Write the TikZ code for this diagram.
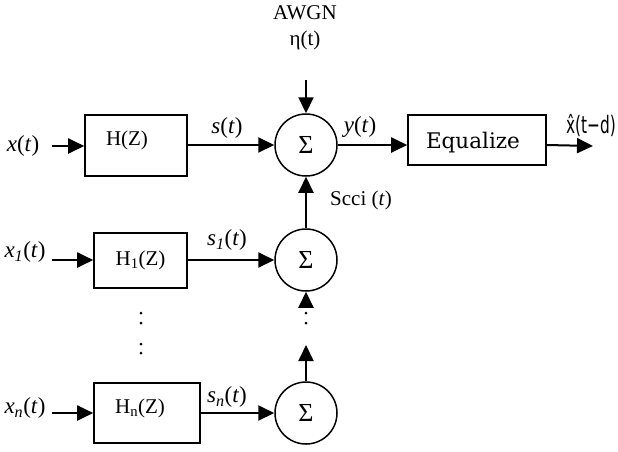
\documentclass[tikz,border=0pt]{standalone}
\usepackage{fontspec}
\setmainfont{Liberation Serif}
\newfontfamily\eqfont{DejaVu Serif}
\newfontfamily\hatfont{DejaVu Sans}
\usetikzlibrary{arrows.meta}
\begin{document}
\begin{tikzpicture}[x=1pt,y=-1pt,
  txt/.style={inner sep=0pt,font=\fontsize{21}{25}\selectfont},
  lbl/.style={inner sep=0pt,font=\fontsize{23}{27}\selectfont},
  blk/.style={draw,line width=1.6pt,inner sep=0pt,font=\fontsize{21}{25}\selectfont},
  sumnode/.style={draw,circle,line width=1.5pt,minimum size=62pt,inner sep=0pt,font=\fontsize{26}{30}\selectfont},
  arr/.style={line width=2pt,-{Triangle[length=16pt,width=15pt]}},
  dotmark/.style={fill,circle,inner sep=0pt,minimum size=3pt}
]
\useasboundingbox (0,0) rectangle (618,451);

% top row
\node[blk,minimum width=102pt,minimum height=61pt] (hz) at (136,145.5) {};
\node[txt] (hzt) at (127,140) {H(Z)};
\node[sumnode] (c1) at (306,145) {Σ};
\node[blk,minimum width=138pt,minimum height=50pt] (eq) at (477,140) {};
\node[inner sep=0pt,font=\eqfont\fontsize{21.5}{25}\selectfont] (eqt) at (473,143) {Equalize};

\node[txt] (awgn) at (305,13) {AWGN};
\node[txt] (eta) at (305,40) {η(t)};
\coordinate (nin) at (306,80);

\node[lbl] (xl) at (23,146) {\textit{x}(\textit{t})};
\coordinate (xin) at (52,146);
\node[lbl] (sl) at (227,128) {\textit{s}(\textit{t})};
\node[lbl] (yl) at (360,127) {\textit{y}(\textit{t})};
\node[inner sep=0pt,anchor=east,font=\hatfont\fontsize{24}{28}\selectfont] (xh) at (616,125) {\scalebox{0.64}[1]{x̂(t−d)}};
\coordinate (out) at (593,146);
\node[txt] (scci) at (361,200) {Scci (\textit{t})};

% second row
\node[blk,minimum width=93pt,minimum height=55pt] (h1) at (140.5,260.5) {H\textsubscript{1}(Z)};
\node[sumnode] (c2) at (306,260) {Σ};
\node[lbl] (x1l) at (25,252) {\textit{x}\textsubscript{\textit{1}}(\textit{t})};
\coordinate (x1in) at (52,260);
\node[lbl] (s1l) at (227,240) {\textit{s}\textsubscript{\textit{1}}(\textit{t})};

% third row
\node[blk,minimum width=106pt,minimum height=60pt] (hn) at (147,413) {};
\node[txt] (hnt) at (140,408) {H\textsubscript{n}(Z)};
\node[sumnode] (c3) at (306,413) {Σ};
\node[lbl] (xnl) at (25,408) {\textit{x}\textsubscript{\textit{n}}(\textit{t})};
\coordinate (xnin) at (52,413);
\node[lbl] (snl) at (227,397) {\textit{s}\textsubscript{\textit{n}}(\textit{t})};

% dots
\node[dotmark] (d1) at (141,313) {};
\node[dotmark] (d2) at (141,323) {};
\node[dotmark] (d3) at (141,344) {};
\node[dotmark] (d4) at (141,353) {};
\node[dotmark] (d5) at (306,313) {};
\node[dotmark] (d6) at (306,323) {};
\coordinate (c2in) at (306,307);
\coordinate (c3out) at (306,345);

% connectors
\draw[arr] (xin) -- (hz.west |- xin);
\draw[arr] (hz.east |- c1.west) -- (c1.west);
\draw[arr] (nin) -- (c1.north);
\draw[arr] (c1.east) -- (eq.west |- c1.east);
\draw[arr] (eq.east |- c1.east) -- (out);
\draw[arr] (c2.north) -- (c1.south);

\draw[arr] (x1in) -- (h1.west |- x1in);
\draw[arr] (h1.east |- c2.west) -- (c2.west);
\draw[arr] (c2in) -- (c2.south);

\draw[arr] (xnin) -- (hn.west |- xnin);
\draw[arr] (hn.east |- c3.west) -- (c3.west);
\draw[arr] (c3.north) -- (c3out);
\end{tikzpicture}
\end{document}
